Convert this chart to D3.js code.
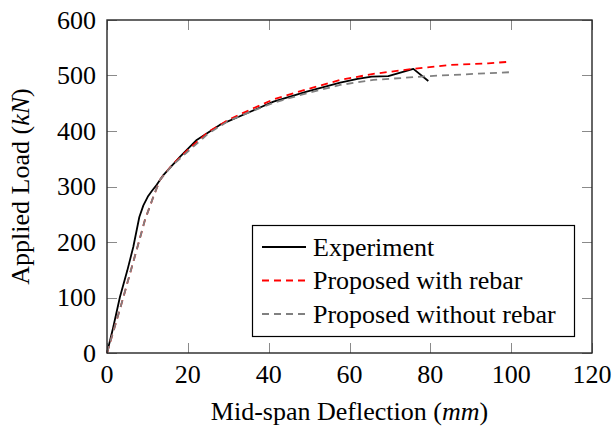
<!DOCTYPE html>
<html>
<head>
<meta charset="utf-8">
<script src="https://cdn.jsdelivr.net/npm/d3@7"></script>
<style>
  html, body { margin: 0; padding: 0; background: #fff; }
  svg { display: block; }
</style>
</head>
<body>
<svg id="chart" width="614" height="430"></svg>
<script>
// ---- data ----
const xTicks = [0, 20, 40, 60, 80, 100, 120];
const yTicks = [0, 100, 200, 300, 400, 500, 600];

const experiment = [
  [0, 0], [1.5, 45], [3.2, 101], [5, 148], [6.5, 191], [8, 245], [9, 266],
  [10.2, 283], [11, 291], [12.3, 303], [14, 321], [18.1, 354], [22.2, 384],
  [27.9, 411], [34.6, 432], [41.2, 453], [49.4, 471], [57.7, 487], [62, 494],
  [65.5, 498], [69.6, 499], [75.8, 512], [79.5, 490]
];
const withRebar = [
  [0, 0], [3.6, 89], [6.5, 164], [9.4, 240], [11.5, 282], [13.1, 312],
  [16, 338], [20, 366], [25, 398], [30, 420], [35, 437], [41.2, 457],
  [49.4, 475], [57.7, 492], [65.9, 503], [75.8, 512], [84.9, 519],
  [94.3, 522], [100, 525]
];
const withoutRebar = [
  [0, 0], [3.6, 89], [6.5, 164], [9.4, 240], [11.5, 282], [13.1, 312],
  [16, 337], [20, 363], [25, 395], [30, 418], [35, 433], [41.2, 451],
  [49.4, 468], [57.7, 483], [65.9, 492], [79.9, 499], [94, 504], [100, 506]
];
const seriesNames = ["Experiment", "Proposed with rebar", "Proposed without rebar"];

// ---- layout ----
const svg = d3.select("#chart");
const FONT = "'Liberation Serif', 'Times New Roman', Times, serif";
const L = 107, R = 592, T = 20, B = 353;
const x = d3.scaleLinear().domain([0, 120]).range([L, R]);
const y = d3.scaleLinear().domain([0, 600]).range([B, T]);
const FS = 26;

const series = [
  { name: seriesNames[0], data: experiment, color: "#000000", dash: null },
  { name: seriesNames[1], data: withRebar, color: "#ff0000", dash: "7,5" },
  { name: seriesNames[2], data: withoutRebar, color: "#808080", dash: "7,5" }
];

// ticks (inside, mirrored)
const tickLen = 10;
const tg = svg.append("g").attr("stroke", "#8a8a8a").attr("stroke-width", 1);
xTicks.forEach(t => {
  const px = Math.round(x(t)) + 0.5;
  tg.append("line").attr("x1", px).attr("x2", px).attr("y1", B).attr("y2", B - tickLen);
  tg.append("line").attr("x1", px).attr("x2", px).attr("y1", T).attr("y2", T + tickLen);
});
yTicks.forEach(t => {
  const py = Math.round(y(t)) + 0.5;
  tg.append("line").attr("x1", L).attr("x2", L + tickLen).attr("y1", py).attr("y2", py);
  tg.append("line").attr("x1", R).attr("x2", R - tickLen).attr("y1", py).attr("y2", py);
});

// curves
const line = d3.line().x(d => x(d[0])).y(d => y(d[1]));
series.forEach(s => {
  svg.append("path")
    .attr("d", line(s.data))
    .attr("fill", "none")
    .attr("stroke", s.color)
    .attr("stroke-width", 1.8)
    .attr("stroke-linejoin", "round")
    .attr("stroke-dasharray", s.dash);
});

// frame
svg.append("rect")
  .attr("x", L).attr("y", T).attr("width", R - L).attr("height", B - T)
  .attr("fill", "none").attr("stroke", "#262626").attr("stroke-width", 1.4);

// tick labels
xTicks.forEach(t => {
  svg.append("text").attr("x", x(t)).attr("y", 383)
    .attr("font-family", FONT)
    .attr("text-anchor", "middle").attr("font-size", FS).text(t);
});
yTicks.forEach(t => {
  svg.append("text").attr("x", 96).attr("y", y(t)).attr("dy", "0.33em")
    .attr("font-family", FONT)
    .attr("text-anchor", "end").attr("font-size", FS).text(t);
});

// axis labels
const xl = svg.append("text").attr("x", (L + R) / 2).attr("y", 420)
  .attr("font-family", FONT)
  .attr("text-anchor", "middle").attr("font-size", FS);
xl.append("tspan").text("Mid-span Deflection (");
xl.append("tspan").attr("font-style", "italic").text("mm");
xl.append("tspan").text(")");

const yl = svg.append("text")
  .attr("transform", `translate(29,${(T + B) / 2}) rotate(-90)`)
  .attr("font-family", FONT)
  .attr("text-anchor", "middle").attr("font-size", FS);
yl.append("tspan").text("Applied Load (");
yl.append("tspan").attr("font-style", "italic").text("kN");
yl.append("tspan").text(")");

// legend
const lg = svg.append("g");
lg.append("rect").attr("x", 252.5).attr("y", 225.5).attr("width", 322).attr("height", 111)
  .attr("fill", "#fff").attr("stroke", "#000").attr("stroke-width", 1.2);
series.forEach((s, i) => {
  const cy = 247 + i * 33.5;
  lg.append("line").attr("x1", 262).attr("x2", 306).attr("y1", cy).attr("y2", cy)
    .attr("stroke", s.color).attr("stroke-width", 1.8).attr("stroke-dasharray", s.dash);
  lg.append("text").attr("x", 313).attr("y", cy).attr("dy", "0.33em")
    .attr("font-family", FONT)
    .attr("font-size", FS).text(s.name);
});
</script>
</body>
</html>
